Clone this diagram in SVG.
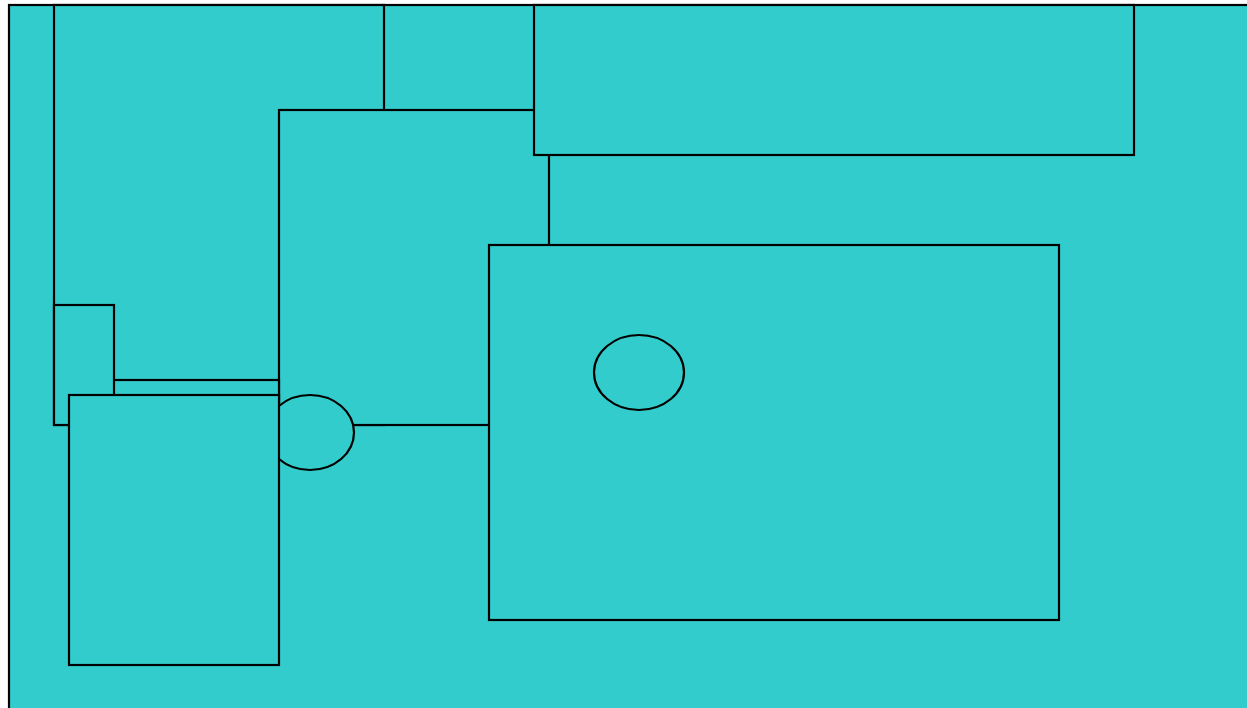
<svg xmlns="http://www.w3.org/2000/svg" width="1247" height="708" viewBox="0 0 1247 708">
<style>
.s{fill:#33cccc;stroke:#000;stroke-width:2.2}
</style>
<rect x="0" y="0" width="1247" height="708" fill="#fff"/>
<rect id="frame" class="s" x="9" y="5" width="1250" height="720"/>
<g id="nodeA"><rect class="s" x="54" y="5" width="330" height="420"/></g>
<g id="nodeB"><rect class="s" x="279" y="110" width="270" height="315"/></g>
<g id="nodeG"><rect class="s" x="90" y="380" width="189" height="40"/></g>
<g id="nodeF"><rect class="s" x="54" y="305" width="60" height="120"/></g>
<g id="ellipse1"><ellipse class="s" cx="310" cy="432.5" rx="44" ry="37.5"/></g>
<g id="nodeC"><rect class="s" x="69" y="395" width="210" height="270"/></g>
<g id="nodeE"><rect class="s" x="534" y="5" width="600" height="150"/></g>
<g id="nodeD"><rect class="s" x="489" y="245" width="570" height="375"/></g>
<g id="ellipse2"><ellipse class="s" cx="639" cy="372.5" rx="45" ry="37.5"/></g>
<g id="connectors"></g>
</svg>
